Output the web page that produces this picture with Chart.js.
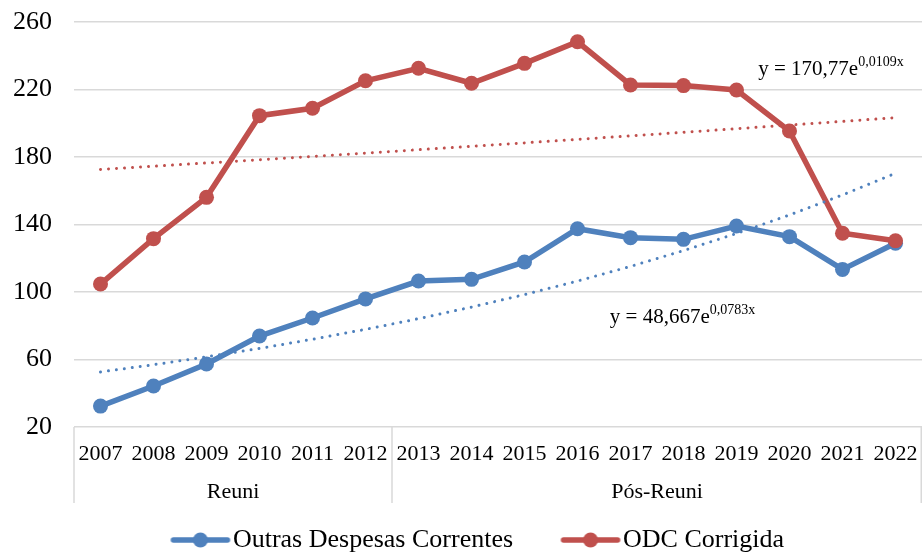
<!DOCTYPE html>
<html>
<head>
<meta charset="utf-8">
<script src="https://cdn.jsdelivr.net/npm/chart.js@4.4.1/dist/chart.umd.min.js"></script>
<style>
  html, body { margin: 0; padding: 0; background: #fff; }
  #wrap { width: 922px; height: 555px; }
</style>
</head>
<body>
<div id="wrap"><canvas id="chart"></canvas></div>
<script>
// values
const years = ['2007', '2008', '2009', '2010', '2011', '2012', '2013', '2014',
  '2015', '2016', '2017', '2018', '2019', '2020', '2021', '2022'];
const periods = ['Reuni', 'Pós-Reuni'];
const periodSizes = [6, 10];
const outras = [32.4, 44.3, 57.3, 73.9, 84.6, 95.9, 106.5, 107.5,
  117.8, 137.5, 132.2, 131.2, 139.1, 132.8, 113.4, 128.9];
const odcCorrigida = [104.7, 131.6, 156.1, 204.5, 208.9, 225.2, 232.6, 223.7,
  235.5, 248.3, 222.7, 222.3, 219.7, 195.4, 134.8, 130.4];
// exponential trendlines, coefficients as printed on the chart (a, b)
const trendOutras = [48.667, 0.0783];
const trendOdc = [170.77, 0.0109];
const eqOutras = ['y = 48,667e', '0,0783x'];
const eqOdc = ['y = 170,77e', '0,0109x'];
const yMin = 20, yMax = 260, yStep = 40;

const BLUE = '#4f81bd';
const RED = '#c0504d';
const FONT = "'Liberation Serif', 'Times New Roman', serif";

function expTrend(coef) {
  return years.map((_, i) => coef[0] * Math.exp(coef[1] * (i + 1)));
}

// legend marker: line with a dot, with transparent lead-in for spacing
function legendIcon(color) {
  const c = document.createElement('canvas');
  c.width = 105; c.height = 20;
  const g = c.getContext('2d');
  g.strokeStyle = color;
  g.lineWidth = 5.5;
  g.lineCap = 'round';
  g.beginPath(); g.moveTo(47, 10); g.lineTo(101, 10); g.stroke();
  g.fillStyle = color;
  g.beginPath(); g.arc(74, 10, 7.5, 0, Math.PI * 2); g.fill();
  return c;
}
const icons = [legendIcon(BLUE), legendIcon(RED)];

const groupAxis = {
  id: 'groupAxis',
  afterDraw(chart) {
    const { ctx, chartArea } = chart;
    const x = chart.scales.x;
    const y = chart.scales.y;
    const half = (x.getPixelForValue(1) - x.getPixelForValue(0)) / 2;
    const bottom = chartArea.bottom + 76;
    ctx.save();
    ctx.strokeStyle = '#d9d9d9';
    ctx.lineWidth = 1.5;
    let start = 0;
    const edges = [chartArea.left];
    periods.forEach((p, k) => {
      const end = start + periodSizes[k] - 1;
      const left = x.getPixelForValue(start) - half;
      const right = x.getPixelForValue(end) + half;
      edges.push(Math.min(right, chartArea.right - 0.75));
      ctx.fillStyle = '#000';
      ctx.font = '22px ' + FONT;
      ctx.textAlign = 'center';
      ctx.textBaseline = 'middle';
      ctx.fillText(p, (left + right) / 2, chartArea.bottom + 65);
      start = end + 1;
    });
    edges.forEach(e => {
      ctx.beginPath();
      ctx.moveTo(e, chartArea.bottom);
      ctx.lineTo(e, bottom);
      ctx.stroke();
    });

    // trendline equations
    const drawEq = (eq, xi, yv) => {
      let px = x.getPixelForValue(xi);
      const py = y.getPixelForValue(yv);
      ctx.textAlign = 'left';
      ctx.textBaseline = 'alphabetic';
      ctx.fillStyle = '#000';
      ctx.font = '21px ' + FONT;
      ctx.fillText(eq[0], px, py);
      px += ctx.measureText(eq[0]).width;
      ctx.font = '14px ' + FONT;
      ctx.fillText(eq[1], px, py - 9);
    };
    drawEq(eqOdc, 12.41, 228.6);
    drawEq(eqOutras, 9.61, 81.6);
    ctx.restore();
  }
};

new Chart(document.getElementById('chart'), {
  type: 'line',
  data: {
    labels: years,
    datasets: [
      {
        label: 'Outras Despesas Correntes',
        data: outras,
        borderColor: BLUE,
        backgroundColor: BLUE,
        borderWidth: 5.5,
        pointRadius: 7.5,
        pointBorderWidth: 0,
        order: 2
      },
      {
        label: 'ODC Corrigida',
        data: odcCorrigida,
        borderColor: RED,
        backgroundColor: RED,
        borderWidth: 5.5,
        pointRadius: 7.5,
        pointBorderWidth: 0,
        order: 1
      },
      {
        label: 'trend1',
        data: expTrend(trendOutras),
        borderColor: BLUE,
        borderWidth: 3,
        borderDash: [0.01, 8],
        borderCapStyle: 'round',
        pointRadius: 0,
        order: 0
      },
      {
        label: 'trend2',
        data: expTrend(trendOdc),
        borderColor: RED,
        borderWidth: 3,
        borderDash: [0.01, 8],
        borderCapStyle: 'round',
        pointRadius: 0,
        order: 0
      }
    ]
  },
  options: {
    responsive: true,
    maintainAspectRatio: false,
    animation: false,
    layout: { autoPadding: false, padding: { top: 22, right: 0, left: 0, bottom: -8 } },
    plugins: {
      tooltip: { enabled: false },
      legend: {
        position: 'bottom',
        labels: {
          font: { family: FONT, size: 26 },
          color: '#000',
          usePointStyle: true,
          pointStyleWidth: 82,
          padding: 15,
          filter: item => item.datasetIndex < 2,
          sort: (a, b) => a.datasetIndex - b.datasetIndex,
          generateLabels: chart => {
            const items = Chart.defaults.plugins.legend.labels.generateLabels(chart);
            items.forEach(it => {
              if (it.datasetIndex < 2) it.pointStyle = icons[it.datasetIndex];
            });
            return items;
          }
        }
      }
    },
    scales: {
      x: {
        offset: true,
        grid: { display: false, drawTicks: false, offset: true },
        border: { display: false },
        ticks: {
          font: { family: FONT, size: 22 },
          color: '#000',
          padding: 14,
          maxRotation: 0,
          autoSkip: false
        },
        afterFit: s => {
          s.height = 85;
          s.paddingLeft = 0;
          s.paddingRight = 0;
        }
      },
      y: {
        min: yMin,
        max: yMax,
        grid: { color: '#d9d9d9', lineWidth: 1.5, drawTicks: false },
        border: { display: false },
        ticks: {
          stepSize: yStep,
          font: { family: FONT, size: 26 },
          color: '#000',
          padding: 22
        },
        afterFit: s => {
          s.width = 74;
          s.paddingTop = 0;
          s.paddingBottom = 0;
        }
      }
    }
  },
  plugins: [groupAxis]
});
</script>
</body>
</html>
